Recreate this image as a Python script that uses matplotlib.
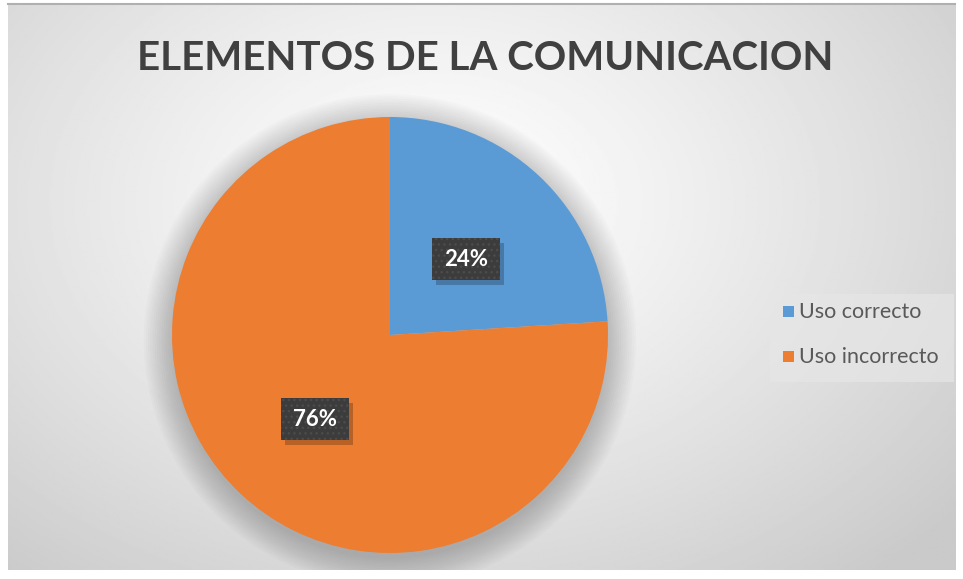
import numpy as np
import matplotlib.pyplot as plt
from matplotlib.patches import Circle, Rectangle

# data
categories = ["Uso correcto", "Uso incorrecto"]
values = [24, 76]
colors = ["#5b9bd5", "#ed7d31"]
title = "ELEMENTOS DE LA COMUNICACION"

W, H = 963, 579
fig = plt.figure(figsize=(W / 100, H / 100), dpi=100)
fig.patch.set_facecolor("white")

# background of the chart area: radial gradient
bg = fig.add_axes([8 / W, 9 / H, 947 / W, 566 / H])
yy, xx = np.mgrid[0:1:300j, 0:1:500j]
d = np.sqrt(((xx - 0.45) / 0.75) ** 2 + ((yy - 0.35) / 0.9) ** 2)
shade = np.clip(1.0 - 0.22 * d ** 1.2, 0.79, 1.0)
bg.imshow(shade, cmap="gray", vmin=0, vmax=1, extent=[0, 1, 0, 1],
          aspect="auto", origin="upper")
bg.set_axis_off()
# top border line
fig.add_artist(plt.Line2D([8 / W, 955 / W], [575 / H, 575 / H], color="#b0b0b0", lw=1.5))

# pie
r_px = 218
cx, cy = 390, 335
ax = fig.add_axes([(cx - r_px) / W, (H - cy - r_px) / H, 2 * r_px / W, 2 * r_px / H])
ax.set_axis_off()

clip = Rectangle((8 / W, 9 / H), 947 / W, 566 / H, transform=fig.transFigure)

# soft shadow
for i in range(14):
    c = Circle((0.0, -0.025), 1.0 + 0.01 * i, color="black",
               alpha=0.016, lw=0, zorder=0)
    ax.add_patch(c)
    c.set_clip_path(clip)

wedges, _ = ax.pie(values, colors=colors, startangle=90, counterclock=False,
                   radius=1.0, wedgeprops=dict(lw=0), frame=False)
ax.set_xlim(-1, 1)
ax.set_ylim(-1, 1)

label_pos = [(466, 259), (315, 419)]
bw, bh = 68, 42
for v, (px, py) in zip(values, label_pos):
    # shadow + dark textured box
    fig.add_artist(Rectangle(((px - bw / 2 + 4) / W, (H - py - bh / 2 - 5) / H), bw / W, bh / H,
                             transform=fig.transFigure, facecolor="black",
                             edgecolor="none", alpha=0.22))
    fig.add_artist(Rectangle(((px - bw / 2) / W, (H - py - bh / 2) / H), bw / W, bh / H,
                             transform=fig.transFigure, facecolor="#3c3c3c",
                             edgecolor="#4c4c4c", hatch="...", lw=0))
    fig.text(px / W, 1 - py / H, f"{v}%", ha="center", va="center", color="white",
             fontsize=16, fontweight="bold", family="Lato")

fig.text(485 / W, 1 - 58 / H, title, ha="center", va="center",
         fontsize=29, fontweight="bold", color="#404040", family="Lato")

# legend
leg_box = Rectangle((770 / W, 1 - 382 / H), 184 / W, 88 / H, transform=fig.transFigure,
                    facecolor="#e6e6e6", edgecolor="none", alpha=0.7)
fig.add_artist(leg_box)
for i, (c, lab) in enumerate(zip(colors, categories)):
    ly = 312 + 45 * i
    fig.add_artist(Rectangle((783 / W, 1 - (ly + 5) / H), 11 / W, 11 / H,
                             transform=fig.transFigure, facecolor=c, edgecolor="none"))
    fig.text(799 / W, 1 - ly / H, lab, ha="left", va="center", fontsize=15.5,
             color="#595959", family="Lato")

fig.savefig("out.png", dpi=100)
